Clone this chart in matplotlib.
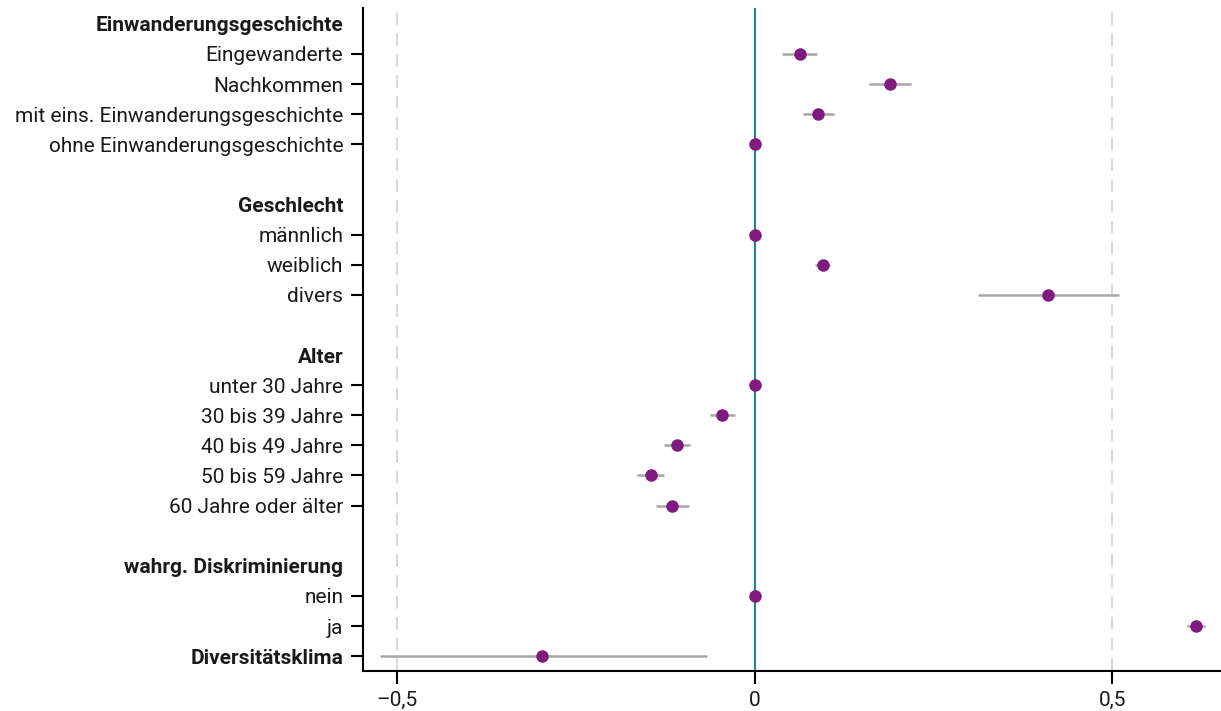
import numpy as np
import matplotlib.pyplot as plt

plt.rcParams['font.family'] = ['Roboto', 'DejaVu Sans']

labels = ['Einwanderungsgeschichte', 'Eingewanderte', 'Nachkommen',
          'mit eins. Einwanderungsgeschichte', 'ohne Einwanderungsgeschichte', '',
          'Geschlecht', 'männlich', 'weiblich', 'divers', '',
          'Alter', 'unter 30 Jahre', '30 bis 39 Jahre', '40 bis 49 Jahre',
          '50 bis 59 Jahre', '60 Jahre oder älter', '',
          'wahrg. Diskriminierung', 'nein', 'ja', 'Diversitätsklima']
headers = ['Einwanderungsgeschichte', 'Geschlecht', 'Alter', 'wahrg. Diskriminierung']
bold_labels = headers + ['Diversitätsklima']

# estimates (None = header / blank row)
est = [None, 0.063, 0.189, 0.088, 0.0, None,
       None, 0.0, 0.095, 0.41, None,
       None, 0.0, -0.045, -0.109, -0.145, -0.116, None,
       None, 0.0, 0.617, -0.297]
lo = [None, 0.038, 0.160, 0.068, 0.0, None,
      None, 0.0, 0.084, 0.312, None,
      None, 0.0, -0.063, -0.127, -0.164, -0.138, None,
      None, 0.0, 0.604, -0.524]
hi = [None, 0.087, 0.219, 0.111, 0.0, None,
      None, 0.0, 0.106, 0.509, None,
      None, 0.0, -0.027, -0.090, -0.126, -0.092, None,
      None, 0.0, 0.629, -0.067]

fig, ax = plt.subplots(figsize=(12.21, 7.11), dpi=100)
fig.subplots_adjust(left=0.297, right=1.0, top=0.989, bottom=0.056)

y = np.arange(len(labels))
idx = [i for i, e in enumerate(est) if e is not None]

for xv in [-0.5, 0.5]:
    ax.axvline(xv, color='#d9d9d9', lw=1.5, ls=(0, (6, 4)), zorder=0)
ax.axvline(0, color='#1a8a8c', lw=1.5, zorder=1)

for i in idx:
    ax.plot([lo[i], hi[i]], [y[i], y[i]], color='#a6a6a6', lw=1.8, zorder=2,
            solid_capstyle='butt')
ax.plot([est[i] for i in idx], [y[i] for i in idx], 'o', color='#7f1a80',
        ms=8, zorder=3)

ax.set_xlim(-0.548, 0.652)
ax.set_ylim(len(labels) - 0.5, -0.53)
ax.set_yticks(y)
ax.set_yticklabels(labels, fontsize=15, color='#1a1a1a')
for t, lab in zip(ax.get_yticklabels(), labels):
    if lab in bold_labels:
        t.set_fontweight('bold')
for tl, lab in zip(ax.yaxis.get_major_ticks(), labels):
    if lab in headers or lab == '':
        tl.tick1line.set_visible(False)

ax.set_xticks([-0.5, 0, 0.5])
ax.set_xticklabels(['\u20130,5', '0', '0,5'], fontsize=15, color='#1a1a1a')
ax.tick_params(axis='y', length=9, width=1.5, pad=5)
ax.tick_params(axis='x', length=9, width=1.5, pad=5)

for s in ['top', 'right']:
    ax.spines[s].set_visible(False)
for s in ['left', 'bottom']:
    ax.spines[s].set_linewidth(1.5)

fig.savefig('out.png', dpi=100)
